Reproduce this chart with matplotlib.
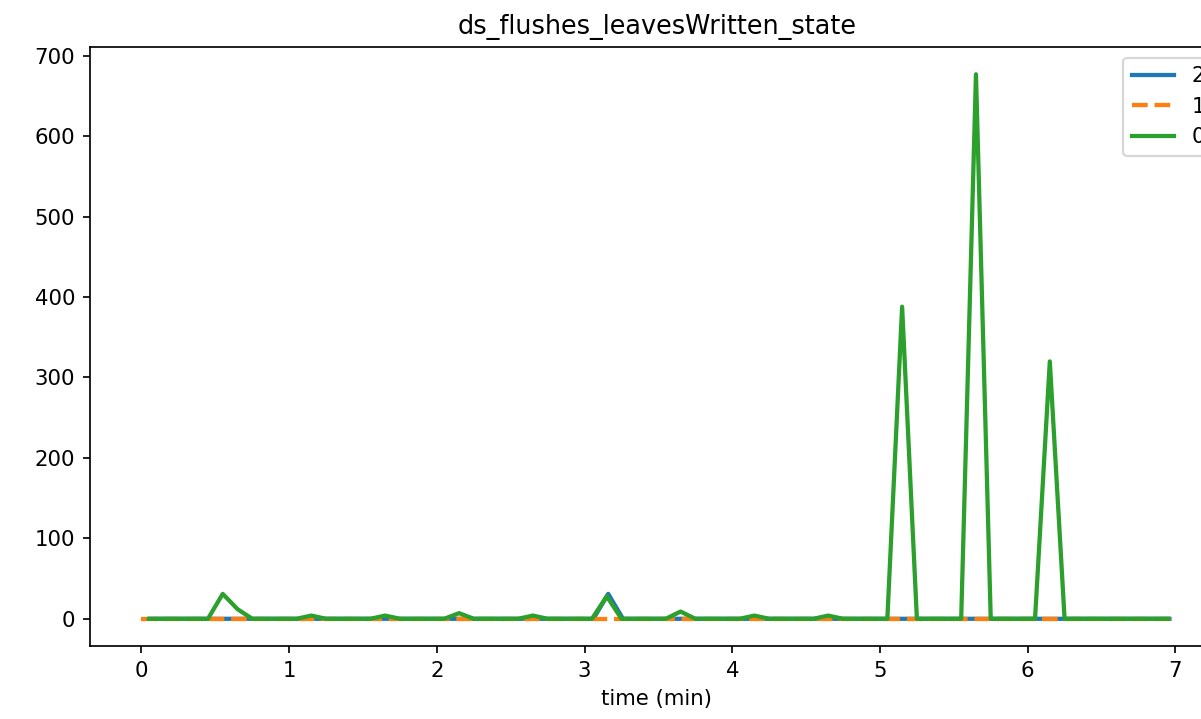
import numpy as np
import matplotlib
matplotlib.use("Agg")
import matplotlib.pyplot as plt

# sample times (min), one sample every 6 s
t_green = np.round(0.05 + 0.1 * np.arange(70), 2)
t_blue = np.round(0.06 + 0.1 * np.arange(70), 2)
t_orange = np.linspace(0.0, 6.98, 70)

# leaves written per state
green_vals = np.zeros(70)
green_peaks = {5: 31, 6: 12, 11: 4, 16: 4, 21: 7, 26: 4, 31: 28,
               36: 9, 41: 4, 46: 4, 51: 388, 56: 677, 61: 320}
for k, v in green_peaks.items():
    green_vals[k] = v

blue_vals = np.zeros(70)
blue_vals[31] = 31

orange_vals = np.zeros(70)

DPI = 153
fig = plt.figure(figsize=(1201 / DPI, 719 / DPI), dpi=DPI)
ax = fig.add_axes([0.0749, 0.1015, 0.9442, 0.8331])

ax.plot(t_blue, blue_vals, color="#1f77b4", linestyle="-", lw=2, label="2")
ax.plot(t_orange, orange_vals, color="#ff7f0e", linestyle="--", lw=2, label="1")
ax.plot(t_green, green_vals, color="#2ca02c", linestyle="-", lw=2, label="0")

ax.set_title("ds_flushes_leavesWritten_state")
ax.set_xlabel("time (min)")
ax.legend(loc="upper right")

fig.savefig("out.png", dpi=DPI)
